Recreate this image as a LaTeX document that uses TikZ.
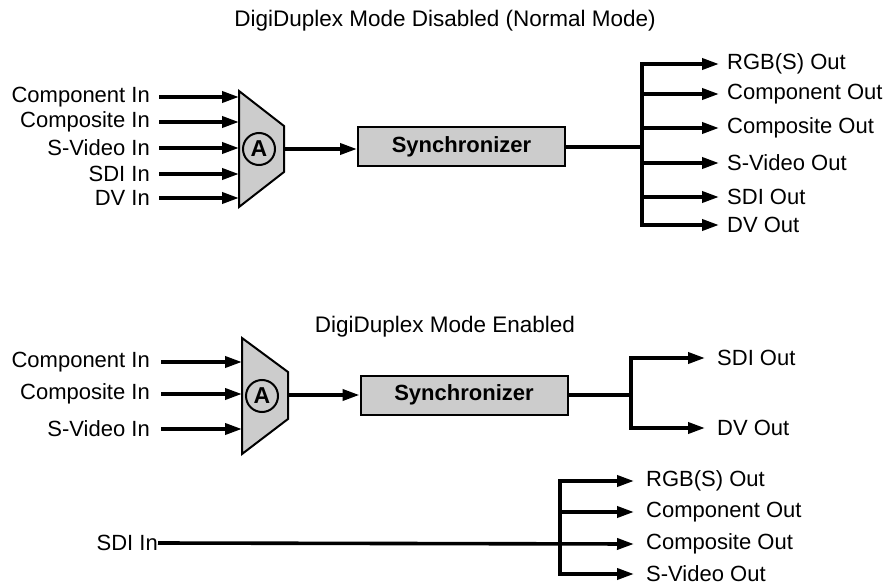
\documentclass[tikz,border=0pt]{standalone}
\usepackage{fontspec}
\setmainfont{Liberation Sans}
\usetikzlibrary{arrows.meta,calc}
\definecolor{boxgray}{HTML}{CCCCCC}
\tikzset{
  arr/.style={line width=3.6pt, -{Triangle[length=17pt,width=11pt]}},
  ln/.style={line width=3.6pt},
  lab/.style={font=\fontsize{22}{25}\selectfont, inner sep=0pt},
  ttl/.style={font=\fontsize{22.5}{27}\selectfont, inner sep=0pt},
  syncbox/.style={draw, line width=2pt, fill=boxgray, minimum width=207pt, minimum height=39pt, inner sep=0pt, font=\bfseries\fontsize{22}{25}\selectfont},
  muxshape/.style={draw, line width=2pt, fill=boxgray, line join=miter},
  selcircle/.style={circle, draw, line width=2pt, minimum size=32pt, inner sep=0pt, font=\bfseries\fontsize{23}{25}\selectfont}
}
\begin{document}
\begin{tikzpicture}[x=1pt,y=-1pt]
\useasboundingbox (0,0) rectangle (891,588);

% ---------- Top: normal mode ----------
\node[ttl] (t1) at (445,21) {DigiDuplex Mode Disabled (Normal Mode)};

\coordinate (m1tl) at (239,91);
\coordinate (m1bl) at (239,207);
\coordinate (m1tr) at (284,126);
\coordinate (m1br) at (284,172);
\coordinate (m1r) at (284,149);
\draw[muxshape] (m1tl) -- (m1tr) -- (m1br) -- (m1bl) -- cycle;
\node[selcircle] (a1) at (259,149) {A};

\node[lab, anchor=east] (i11) at (150,97) {Component In};
\node[lab, anchor=east] (i12) at (150,122) {Composite In};
\node[lab, anchor=east] (i13) at (150,148) {S-Video In};
\node[lab, anchor=east] (i14) at (150,174) {SDI In};
\node[lab, anchor=east] (i15) at (150,198) {DV In};
\foreach \n in {i11,i12,i13,i14,i15}
  \draw[arr] ([xshift=9pt]\n.east) -- (\n.east -| m1tl);

\node[syncbox] (s1) at (461.5,147) {Synchronizer};
\draw[arr] (m1r) -- (m1r -| s1.west);

\coordinate (b1) at (642,147);
\draw[ln] (s1.east) -- (b1);
\node[lab, anchor=west] (o11) at (727,64) {RGB(S) Out};
\node[lab, anchor=west] (o12) at (727,94) {Component Out};
\node[lab, anchor=west] (o13) at (727,128) {Composite Out};
\node[lab, anchor=west] (o14) at (727,163) {S-Video Out};
\node[lab, anchor=west] (o15) at (727,197) {SDI Out};
\node[lab, anchor=west] (o16) at (727,225) {DV Out};
\draw[ln, line cap=rect] (b1 |- o11) -- (b1 |- o16);
\foreach \n in {o11,o12,o13,o14,o15,o16}
  \draw[arr] (b1 |- \n.west) -- ([xshift=-8pt]\n.west);

% ---------- Middle: DigiDuplex enabled ----------
\node[ttl] (t2) at (445,327) {DigiDuplex Mode Enabled};

\coordinate (m2tl) at (242,338);
\coordinate (m2bl) at (242,454);
\coordinate (m2tr) at (288,372);
\coordinate (m2br) at (288,419);
\coordinate (m2r) at (288,395);
\draw[muxshape] (m2tl) -- (m2tr) -- (m2br) -- (m2bl) -- cycle;
\node[selcircle] (a2) at (262,396) {A};

\node[lab, anchor=east] (i21) at (150,362) {Component In};
\node[lab, anchor=east] (i22) at (150,394) {Composite In};
\node[lab, anchor=east] (i23) at (150,429) {S-Video In};
\foreach \n in {i21,i22,i23}
  \draw[arr] ([xshift=11pt]\n.east) -- (\n.east -| m2tl);

\node[syncbox] (s2) at (464,395) {Synchronizer};
\draw[arr] (m2r) -- (m2r -| s2.west);

\coordinate (b2) at (631,395);
\draw[ln] (s2.east) -- (b2);
\node[lab, anchor=west] (o21) at (717,358) {SDI Out};
\node[lab, anchor=west] (o22) at (717,428) {DV Out};
\draw[ln, line cap=rect] (b2 |- o21) -- (b2 |- o22);
\foreach \n in {o21,o22}
  \draw[arr] (b2 |- \n.west) -- ([xshift=-12pt]\n.west);

% ---------- Bottom: SDI passthrough ----------
\node[lab, anchor=east] (i31) at (158,543) {SDI In};
\node[lab, anchor=west] (o31) at (646,481) {RGB(S) Out};
\node[lab, anchor=west] (o32) at (646,512) {Component Out};
\node[lab, anchor=west] (o33) at (646,544) {Composite Out};
\node[lab, anchor=west] (o34) at (646,574) {S-Video Out};
\coordinate (b3) at (560,544);
\draw[ln, line cap=rect] (b3 |- o31) -- (b3 |- o34);
\draw[arr] (i31.east) -- ([xshift=-12pt]o33.west);
\foreach \n in {o31,o32,o34}
  \draw[arr] (b3 |- \n.west) -- ([xshift=-12pt]\n.west);
\end{tikzpicture}
\end{document}
